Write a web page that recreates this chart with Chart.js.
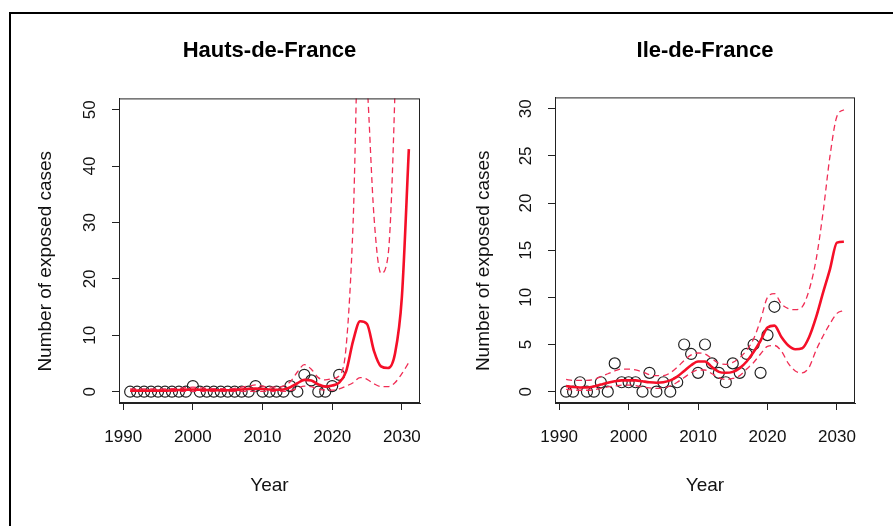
<!DOCTYPE html>
<html>
<head>
<meta charset="utf-8">
<script src="https://cdn.jsdelivr.net/npm/chart.js@4/dist/chart.umd.min.js"></script>
<style>
  body { margin: 0; background: #fff; }
  #frame { position: absolute; left: 9px; top: 12px; width: 900px; height: 600px;
           border-left: 2px solid #000; border-top: 2px solid #000; }
  canvas { position: absolute; top: 0; }
  #hdf { left: 0; }
  #idf { left: 446px; }
</style>
</head>
<body>
<div id="frame"></div>
<canvas id="hdf" width="446" height="526"></canvas>
<canvas id="idf" width="447" height="526"></canvas>
<script>
// observed years and the fitted / projected years
const obsYears = [1991,1992,1993,1994,1995,1996,1997,1998,1999,2000,2001,2002,2003,2004,2005,2006,2007,2008,2009,2010,2011,2012,2013,2014,2015,2016,2017,2018,2019,2020,2021];
const fitYears = [1991,1992,1993,1994,1995,1996,1997,1998,1999,2000,2001,2002,2003,2004,2005,2006,2007,2008,2009,2010,2011,2012,2013,2014,2015,2016,2017,2018,2019,2020,2021,2022,2023,2024,2025,2026,2027,2028,2029,2030,2031];
const xTicks = [1990, 2000, 2010, 2020, 2030];

// Hauts-de-France
const hdfObserved = [0,0,0,0,0,0,0,0,0,1,0,0,0,0,0,0,0,0,1,0,0,0,0,1,0,3,2,0,0,1,3];
const hdfFit   = [0.2,0.2,0.2,0.2,0.2,0.2,0.25,0.3,0.35,0.4,0.35,0.3,0.25,0.25,0.25,0.3,0.4,0.5,0.55,0.5,0.4,0.35,0.4,0.8,1.5,2.1,2.0,1.3,0.9,1.1,1.6,3.6,9.0,12.5,12.0,7.2,4.5,4.2,6.7,16.8,43];
const hdfUpper = [0.5,0.5,0.5,0.5,0.5,0.5,0.55,0.6,0.7,0.8,0.7,0.6,0.55,0.55,0.55,0.6,0.8,1.0,1.2,1.0,0.8,0.8,1.0,1.8,3.5,4.8,4.0,2.5,2.1,2.3,2.8,8,30,72,55,31,21,24,53,110,200];
const hdfLower = [0.05,0.05,0.05,0.05,0.05,0.05,0.05,0.05,0.05,0.05,0.05,0.05,0.05,0.05,0.05,0.05,0.05,0.05,0.05,0.05,0.05,0.05,0.05,0.2,0.6,1.0,0.9,0.5,0.3,0.3,0.5,1.0,1.6,2.5,2.2,1.4,0.9,0.9,1.6,3.2,5.2];
const hdfYTicks = [0, 10, 20, 30, 40, 50];

// Ile-de-France
const idfObserved = [0,0,1,0,0,1,0,3,1,1,1,0,2,0,1,0,1,5,4,2,5,3,2,1,3,2,4,5,2,6,9];
const idfFit   = [0.6,0.5,0.45,0.45,0.55,0.75,0.95,1.1,1.2,1.2,1.2,1.1,1.0,0.95,1.0,1.2,1.6,2.2,2.8,3.2,3.2,2.6,2.1,2.0,2.1,2.5,3.2,4.2,5.4,6.8,7.0,5.8,4.9,4.5,4.6,5.8,7.9,10.5,13.0,15.8,15.9];
const idfUpper = [1.3,1.2,1.2,1.2,1.3,1.6,1.9,2.2,2.4,2.4,2.3,2.1,1.8,1.7,1.7,2.0,2.6,3.3,3.9,4.1,4.0,3.5,3.0,2.9,3.1,3.6,4.4,5.6,7.6,10.0,10.4,9.3,8.8,8.7,9.0,10.8,14.0,19.0,25.0,29.2,29.9];
const idfLower = [0.25,0.2,0.15,0.15,0.2,0.35,0.5,0.6,0.7,0.7,0.65,0.5,0.4,0.35,0.4,0.6,1.0,1.5,2.0,2.3,2.3,1.9,1.5,1.3,1.4,1.7,2.4,3.1,4.0,4.8,4.9,4.3,3.0,2.2,2.0,2.6,4.4,5.9,7.2,8.3,8.6];
const idfYTicks = [0, 5, 10, 15, 20, 25, 30];

const FONT = "'Liberation Sans', Arial, sans-serif";

// box round the plot region, like R's default frame
const boxPlugin = {
  id: 'box',
  afterDraw(chart) {
    const a = chart.chartArea, ctx = chart.ctx;
    ctx.save();
    ctx.strokeStyle = '#222';
    ctx.lineWidth = 1;
    ctx.strokeRect(a.left + 0.5, a.top + 0.5, a.right - a.left - 1, a.bottom - a.top - 1);
    ctx.restore();
  }
};

function pts(xs, ys) {
  return xs.map((x, i) => ({ x: x, y: ys[i] }));
}

function makeChart(id, cfg) {
  const curve = (data, dashed) => ({
    data: data,
    showLine: true,
    pointRadius: 0,
    borderColor: dashed ? 'rgb(240,45,85)' : 'rgb(245,15,40)',
    borderWidth: dashed ? 1.3 : 2.6,
    borderDash: dashed ? [6, 4] : [],
    cubicInterpolationMode: 'monotone',
    clip: 0
  });
  new Chart(document.getElementById(id), {
    type: 'scatter',
    data: {
      datasets: [
        curve(pts(fitYears, cfg.fit), false),
        curve(pts(fitYears, cfg.upper), true),
        curve(pts(fitYears, cfg.lower), true),
        {
          data: pts(obsYears, cfg.observed),
          pointStyle: 'circle',
          pointRadius: 5.5,
          pointBorderWidth: 1.2,
          pointBorderColor: '#222',
          pointBackgroundColor: 'rgba(0,0,0,0)',
          clip: 0
        }
      ]
    },
    options: {
      responsive: false,
      animation: false,
      events: [],
      layout: { padding: { left: 0, right: cfg.padRight, top: 0, bottom: 0 } },
      plugins: {
        legend: { display: false },
        tooltip: { enabled: false },
        title: {
          display: true,
          fullSize: false,
          text: cfg.title,
          color: '#000',
          font: { family: FONT, size: 22, weight: 'bold' },
          padding: { top: 38, bottom: cfg.titleBottom }
        }
      },
      scales: {
        x: {
          type: 'linear',
          min: 1989.4,
          max: 2032.6,
          afterBuildTicks: s => { s.ticks = xTicks.map(v => ({ value: v })); },
          afterFit: s => { s.height = 123; },
          ticks: { color: '#111', font: { family: FONT, size: 17 }, padding: 17, callback: v => String(v) },
          grid: { drawOnChartArea: false, drawTicks: true, tickLength: 7, color: '#222' },
          border: { display: true, color: '#222' },
          title: { display: true, text: 'Year', color: '#111', font: { family: FONT, size: 19 }, padding: { top: 0, bottom: 29 } }
        },
        y: {
          type: 'linear',
          min: cfg.yMin,
          max: cfg.yMax,
          afterBuildTicks: s => { s.ticks = cfg.yTicks.map(v => ({ value: v })); },
          afterFit: s => { s.width = cfg.yWidth; },
          ticks: { color: '#111', font: { family: FONT, size: 17 }, padding: 12, minRotation: 90, maxRotation: 90, crossAlign: 'center' },
          grid: { drawOnChartArea: false, drawTicks: true, tickLength: 7, color: '#222' },
          border: { display: true, color: '#222' },
          // trailing spaces nudge the label down, as in the original
          title: { display: true, text: 'Number of exposed cases    ', color: '#111', font: { family: FONT, size: 19 }, padding: { top: cfg.yTitlePad, bottom: 0 } }
        }
      }
    },
    plugins: [boxPlugin]
  });
}

makeChart('hdf', {
  title: 'Hauts-de-France',
  observed: hdfObserved, fit: hdfFit, upper: hdfUpper, lower: hdfLower,
  yTicks: hdfYTicks, yMin: -2, yMax: 52,
  yWidth: 119, padRight: 26, titleBottom: 34, yTitlePad: 34
});

makeChart('idf', {
  title: 'Ile-de-France',
  observed: idfObserved, fit: idfFit, upper: idfUpper, lower: idfLower,
  yTicks: idfYTicks, yMin: -1.2, yMax: 31.2,
  yWidth: 109, padRight: 38, titleBottom: 33, yTitlePad: 26
});
</script>
</body>
</html>
